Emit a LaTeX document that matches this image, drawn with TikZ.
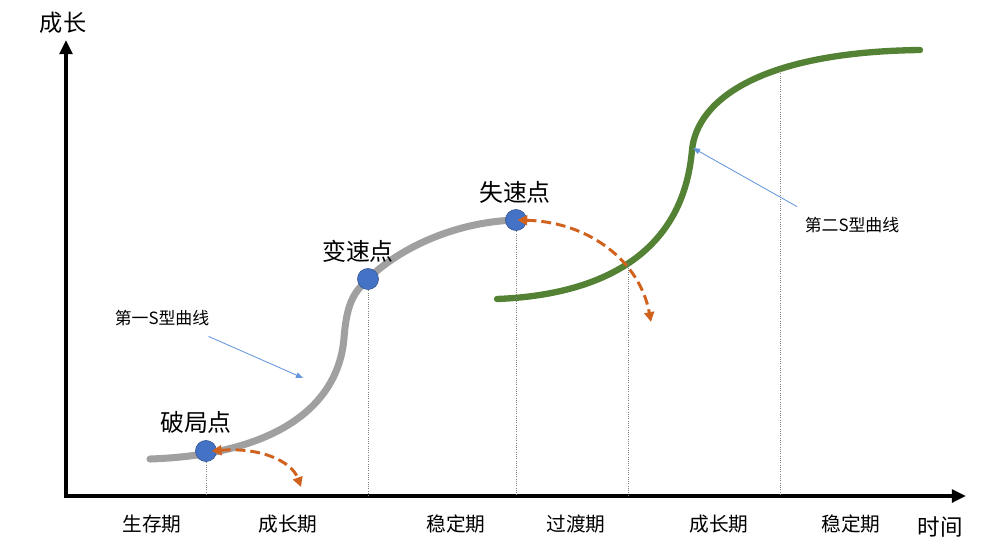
\documentclass[tikz,border=0pt]{standalone}
\usepackage{fontspec}
\newfontfamily\cjk{Noto Sans CJK SC}
\usetikzlibrary{arrows.meta}
\definecolor{dotblue}{RGB}{68,114,196}
\definecolor{curvegray}{RGB}{160,160,160}
\definecolor{curvegreen}{RGB}{84,130,53}
\definecolor{turnorange}{RGB}{208,98,30}
\definecolor{noteblue}{RGB}{100,150,220}

\begin{document}
\begin{tikzpicture}[x=0.025cm, y=-0.025cm,
					axis/.style={line width=2.8pt, -{Triangle[length=10pt, width=9pt]}},
					dot/.style={circle, fill=dotblue, draw=dotblue!75!black, thin, minimum size=15pt, inner sep=0pt},
					point/.style={font=\cjk\fontsize{17}{17}\selectfont},
					period/.style={font=\cjk\fontsize{14}{14}\selectfont},
					note/.style={font=\cjk\fontsize{12}{12}\selectfont},
					guide/.style={gray, densely dotted, line width=0.6pt},
					turn/.style={turnorange, line width=2.1pt, dash pattern=on 7pt off 3.5pt, {Triangle[length=7pt, width=7pt]}-{Triangle[length=7pt, width=7pt]}},
					pointer/.style={noteblue, line width=0.6pt, -{Triangle[length=5pt, width=4pt]}}]
	\useasboundingbox (0,0) rectangle (998,559);
	
	% axes
	\coordinate (o) at (66,496);
	\coordinate (xend) at (966,496);
	\coordinate (yend) at (66,40);
	\draw[axis] (64,496) -- (xend);
	\draw[axis] (66,498) -- (yend);
	\node[font=\cjk\fontsize{16.5}{16.5}\selectfont] (ylab) at (63,23) {成长};
	\node[font=\cjk\fontsize{16}{16}\selectfont] (xlab) at (940,527) {时间};
	
	% first curve
	\coordinate (d1p) at (206,451);
	\coordinate (d2p) at (368,279);
	\coordinate (d3p) at (516,220);
	\draw[curvegray, line width=5pt, line cap=round]
		(150,459) .. controls (270,455) and (338,410) .. (344,338)
		.. controls (347,300) and (355,292) .. (d2p)
		.. controls (395,252) and (450,222) .. (d3p);
	
	% second curve
	\coordinate (c1) at (628,263);
	\coordinate (c2) at (780,71);
	\draw[curvegreen, line width=4.5pt, line cap=round]
		(497,299) .. controls (600,295) and (683,255) .. (692,150)
		.. controls (697,100) and (760,52) .. (920,50);
	
	% guides
	\draw[guide] (d1p) -- (d1p |- o);
	\draw[guide] (d2p) -- (d2p |- o);
	\draw[guide] (d3p) -- (d3p |- o);
	\draw[guide] (c1) -- (c1 |- o);
	\draw[guide] (c2) -- (c2 |- o);
	
	\node[dot] (d1) at (d1p) {};
	\node[dot] (d2) at (d2p) {};
	\node[dot] (d3) at (d3p) {};
	\node[point] (l1) at (196,422) {破局点};
	\node[point] (l2) at (358,251) {变速点};
	\node[point] (l3) at (515,192) {失速点};
	
	% turning arrows
	\coordinate (t1) at (301,487);
	\coordinate (t2) at (651,322);
	\draw[turn] ([xshift=4pt]d1.center) .. controls (262,447) and (292,462) .. (t1);
	\draw[turn] ([xshift=1pt]d3.center) .. controls (590,222) and (640,262) .. (t2);
	
	% notes
	\node[note] (n1) at (162,318) {第一S型曲线};
	\node[note] (n2) at (852,225) {第二S型曲线};
	\coordinate (s1) at (303,378);
	\coordinate (s2) at (693,148);
	\draw[pointer] ([shift={(-4pt,-4pt)}]n1.south east) -- (s1);
	\draw[pointer] ([shift={(-2pt,4pt)}]n2.north west) -- (s2);
	
	% periods
	\foreach \x/\t in {152/生存期, 288/成长期, 456/稳定期, 576/过渡期, 719/成长期, 851/稳定期}
		\node[period] (p\x) at (\x,524) {\t};
\end{tikzpicture}
\end{document}
